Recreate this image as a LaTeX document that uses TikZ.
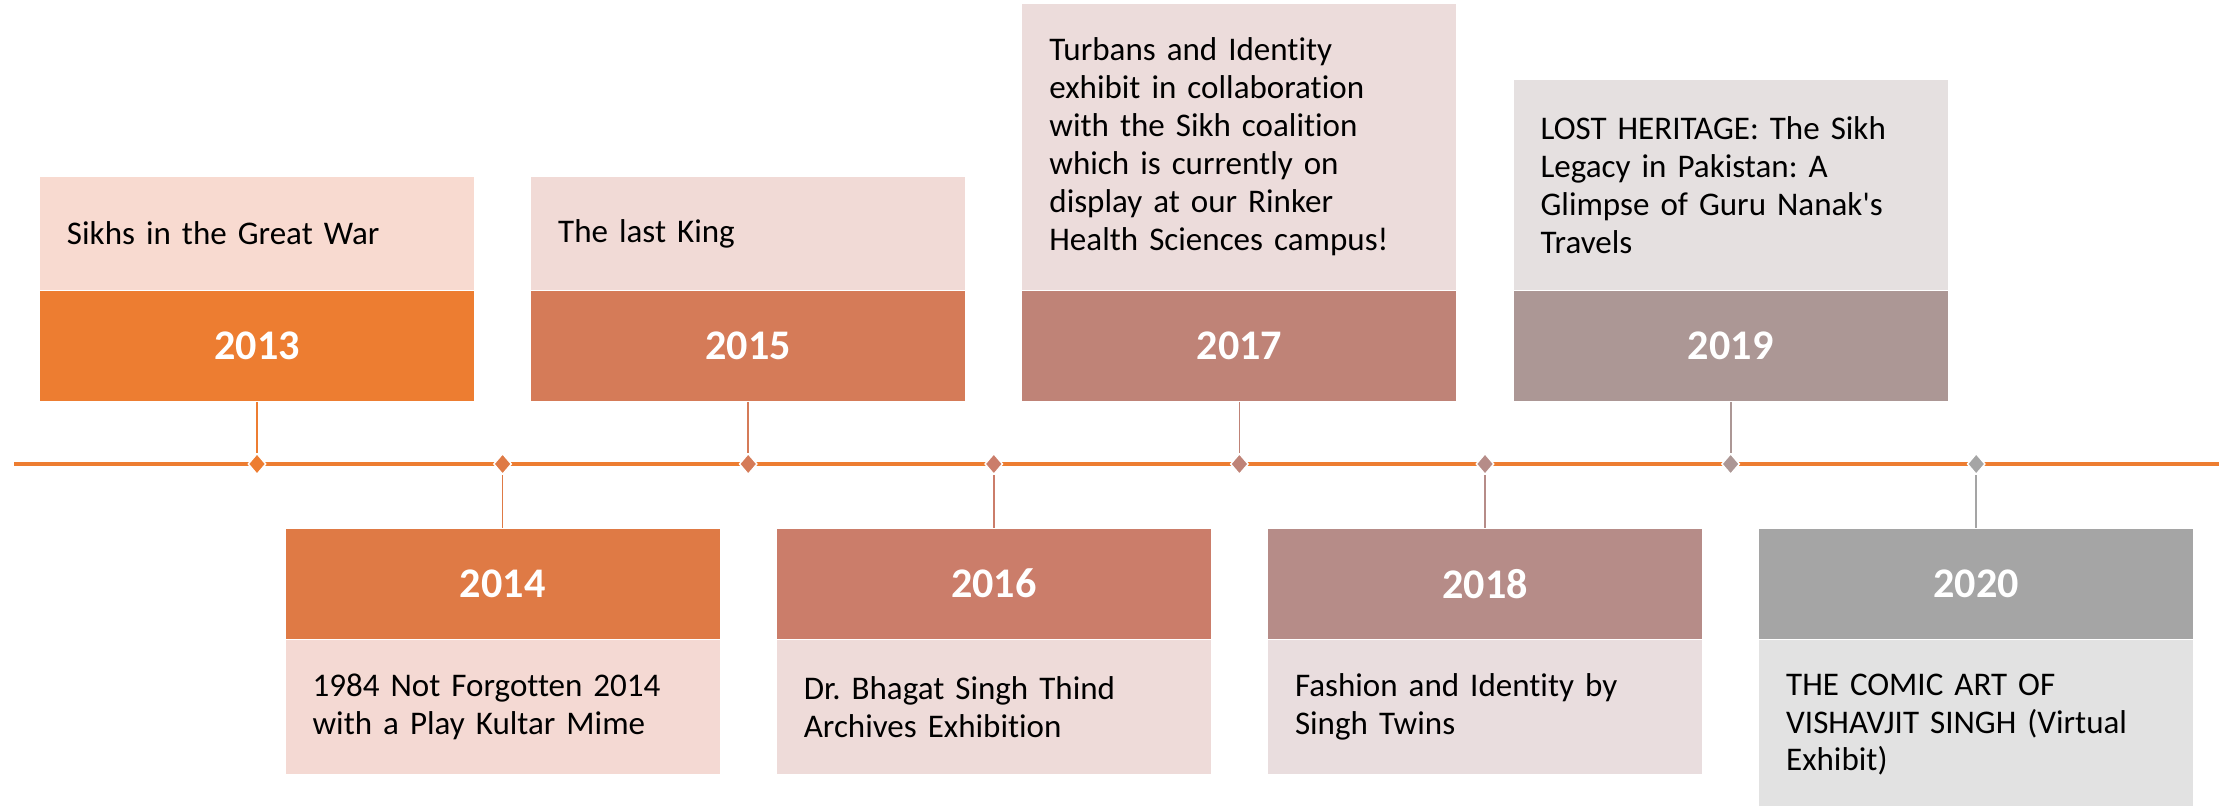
\documentclass[tikz,border=0pt]{standalone}
\usepackage{fontspec}
\setmainfont{Carlito}[Ligatures=NoCommon]
\usetikzlibrary{positioning,shapes.geometric}
\frenchspacing

\definecolor{d13}{HTML}{ED7D31}\definecolor{l13}{HTML}{F8DAD0}
\definecolor{d14}{HTML}{DF7A45}\definecolor{l14}{HTML}{F4D9D3}
\definecolor{d15}{HTML}{D57B58}\definecolor{l15}{HTML}{F1DAD6}
\definecolor{d16}{HTML}{CB7D6A}\definecolor{l16}{HTML}{EEDBD9}
\definecolor{d17}{HTML}{BF8377}\definecolor{l17}{HTML}{ECDCDB}
\definecolor{d18}{HTML}{B68C88}\definecolor{l18}{HTML}{E9DDDE}
\definecolor{d19}{HTML}{AC9795}\definecolor{l19}{HTML}{E5E0E0}
\definecolor{d20}{HTML}{A5A5A5}\definecolor{l20}{HTML}{E2E2E2}

\tikzset{
  yearbox/.style={minimum width=4.34cm, minimum height=1.1cm, inner sep=0pt,
    text=white, font=\fontsize{12}{14}\selectfont\bfseries},
  notebox/.style={text width=3.8cm, inner xsep=0.27cm, inner ysep=0pt, align=left,
    font=\fontsize{9.4}{10.8}\selectfont},
  mark dia/.style={diamond, minimum width=0.18cm, minimum height=0.21cm, inner sep=0pt,
    draw=white, line width=0.4pt},
  tick/.style={line width=0.5pt}
}

\begin{document}
\begin{tikzpicture}
  \useasboundingbox (0,0) rectangle (22.26,8.06);

  \coordinate (tl) at (0.14,3.42);
  \coordinate (tr) at (22.19,3.42);
  \draw[d13, line width=1.2pt] (tl) -- (tr);

  \node[mark dia, fill=d13] (1) at (2.57,3.42) {};
  \node[mark dia, fill=d14, right=2.456cm of 1.center, anchor=center] (2) {};
  \node[mark dia, fill=d15, right=2.456cm of 2.center, anchor=center] (3) {};
  \node[mark dia, fill=d16, right=2.456cm of 3.center, anchor=center] (4) {};
  \node[mark dia, fill=d17, right=2.456cm of 4.center, anchor=center] (5) {};
  \node[mark dia, fill=d18, right=2.456cm of 5.center, anchor=center] (6) {};
  \node[mark dia, fill=d19, right=2.456cm of 6.center, anchor=center] (7) {};
  \node[mark dia, fill=d20, right=2.456cm of 7.center, anchor=center] (8) {};

  \node[yearbox, fill=d13, above=0.62cm of 1.center] (y13) {2013};
  \node[yearbox, fill=d15, above=0.62cm of 3.center] (y15) {2015};
  \node[yearbox, fill=d17, above=0.62cm of 5.center] (y17) {2017};
  \node[yearbox, fill=d19, above=0.62cm of 7.center] (y19) {2019};
  \node[yearbox, fill=d14, below=0.64cm of 2.center] (y14) {2014};
  \node[yearbox, fill=d16, below=0.64cm of 4.center] (y16) {2016};
  \node[yearbox, fill=d18, below=0.64cm of 6.center] (y18) {2018};
  \node[yearbox, fill=d20, below=0.64cm of 8.center] (y20) {2020};

  \node[notebox, fill=l13, minimum height=1.13cm, above=0pt of y13] (n13) {Sikhs in the Great War};
  \node[notebox, fill=l15, minimum height=1.13cm, above=0pt of y15] (n15) {The last King};
  \node[notebox, fill=l17, minimum height=2.86cm, above=0pt of y17] (n17) {Turbans and Identity\\exhibit in collaboration\\with the Sikh coalition\\which is currently on\\display at our Rinker\\Health Sciences campus!};
  \node[notebox, fill=l19, minimum height=2.10cm, above=0pt of y19] (n19) {LOST HERITAGE: The Sikh\\Legacy in Pakistan: A\\Glimpse of Guru Nanak\textquotesingle s\\Travels};
  \node[notebox, fill=l14, minimum height=1.34cm, below=0pt of y14] (n14) {1984 Not Forgotten 2014\\with a Play Kultar Mime};
  \node[notebox, fill=l16, minimum height=1.34cm, below=0pt of y16] (n16) {Dr. Bhagat Singh Thind\\Archives Exhibition};
  \node[notebox, fill=l18, minimum height=1.34cm, below=0pt of y18] (n18) {Fashion and Identity by\\Singh Twins};
  \node[notebox, fill=l20, minimum height=1.69cm, below=0pt of y20] (n20) {THE COMIC ART OF\\VISHAVJIT SINGH (Virtual\\Exhibit)};

  \draw[tick, d13] (y13) -- (1);
  \draw[tick, d14] (2) -- (y14);
  \draw[tick, d15] (y15) -- (3);
  \draw[tick, d16] (4) -- (y16);
  \draw[tick, d17] (y17) -- (5);
  \draw[tick, d18] (6) -- (y18);
  \draw[tick, d19] (y19) -- (7);
  \draw[tick, d20] (8) -- (y20);
\end{tikzpicture}
\end{document}
